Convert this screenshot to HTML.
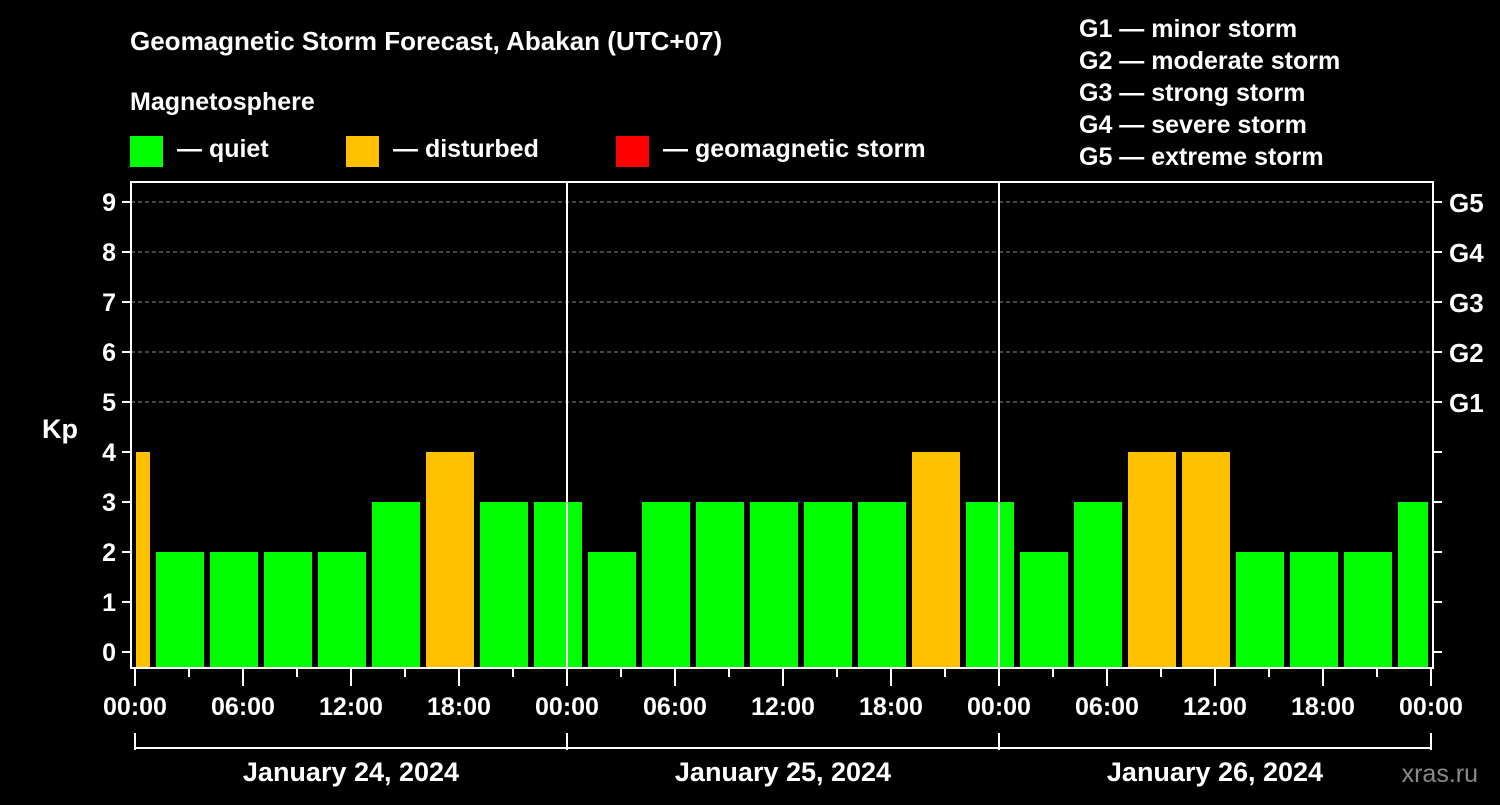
<!DOCTYPE html>
<html><head><meta charset="utf-8"><style>
body{margin:0;background:#000;width:1500px;height:800px;overflow:hidden}
svg text{font-family:"Liberation Sans",Arial,sans-serif;font-weight:bold;fill:#fff}
</style></head><body>
<svg id="c" width="1500" height="800">
<text x="130" y="50" font-size="26">Geomagnetic Storm Forecast, Abakan (UTC+07)</text>
<text x="130" y="110" font-size="25">Magnetosphere</text>
<rect x="130" y="136" width="33" height="31" fill="#00ff00"/>
<text x="177" y="157" font-size="25">— quiet</text>
<rect x="346" y="136" width="33" height="31" fill="#ffc000"/>
<text x="393" y="157" font-size="25">— disturbed</text>
<rect x="616" y="136" width="33" height="31" fill="#ff0000"/>
<text x="663" y="157" font-size="25">— geomagnetic storm</text>
<g font-size="25">
<text x="1079" y="37">G1 — minor storm</text>
<text x="1079" y="69">G2 — moderate storm</text>
<text x="1079" y="101">G3 — strong storm</text>
<text x="1079" y="133">G4 — severe storm</text>
<text x="1079" y="165">G5 — extreme storm</text>
</g>
<text x="42" y="438" font-size="27">Kp</text>
<text x="1478" y="782" font-size="25" fill="#888" style="fill:#8a8a8a;font-weight:normal" text-anchor="end">xras.ru</text>
<g id="grid"></g><g id="bars"></g><g id="axes"></g>
</svg>
<script>
const values=[4,2,2,2,2,3,4,3,3,2,3,3,3,3,3,4,3,2,3,4,4,2,2,2,3];
const startHours=[-2,1,4,7,10,13,16,19,22,25,28,31,34,37,40,43,46,49,52,55,58,61,64,67,70];
const yTicks=[0,1,2,3,4,5,6,7,8,9];
const gLabels=["G1","G2","G3","G4","G5"];
const xTickLabels=["00:00","06:00","12:00","18:00","00:00","06:00","12:00","18:00","00:00","06:00","12:00","18:00","00:00"];
const dayLabels=["January 24, 2024","January 25, 2024","January 26, 2024"];
const NS="http://www.w3.org/2000/svg";
const L=131,R=1433,T=182,B=668;
const x=h=>135+h*18;
const y=v=>652-v*50;
function mk(p,t,a){const e=document.createElementNS(NS,t);for(const k in a)e.setAttribute(k,a[k]);p.appendChild(e);return e;}
const grid=document.getElementById('grid'),bars=document.getElementById('bars'),axes=document.getElementById('axes');
for(let v=5;v<=9;v++){const l=mk(grid,'line',{x1:L,x2:R,y1:y(v),y2:y(v),stroke:'#888','stroke-dasharray':'4,3','stroke-width':1});

}
values.forEach((v,i)=>{let x0=Math.max(x(startHours[i])+3,136),x1=Math.min(x(startHours[i]+3)-3,1428);
const r=mk(bars,'rect',{x:x0,y:y(v),width:x1-x0,height:B-y(v),fill:v>=5?'#ff0000':(v>=4?'#ffc000':'#00ff00')});

});
mk(axes,'rect',{x:L,y:T,width:R-L,height:B-T,fill:'none',stroke:'#fff','stroke-width':2});
[24,48].forEach(h=>{const l=mk(axes,'line',{x1:x(h),x2:x(h),y1:T,y2:B,stroke:'#fff','stroke-width':2});

});
yTicks.forEach(v=>{mk(axes,'line',{x1:122,x2:L,y1:y(v),y2:y(v),stroke:'#fff','stroke-width':2});
mk(axes,'line',{x1:R,x2:1442,y1:y(v),y2:y(v),stroke:'#fff','stroke-width':2});
const t=mk(axes,'text',{x:116,y:y(v)+9,'font-size':25,'text-anchor':'end'});t.textContent=v;

});
gLabels.forEach((g,i)=>{const t=mk(axes,'text',{x:1449,y:y(i+5)+10,'font-size':26});t.textContent=g;

});
for(let h=0;h<=72;h+=3){mk(axes,'line',{x1:x(h),x2:x(h),y1:B,y2:h%6===0?686:677,stroke:'#fff','stroke-width':2});}
xTickLabels.forEach((s,i)=>{const t=mk(axes,'text',{x:x(i*6),y:715,'font-size':25,'text-anchor':'middle'});t.textContent=s;

});
mk(axes,'line',{x1:x(0),x2:x(72),y1:748,y2:748,stroke:'#fff','stroke-width':2});
[0,24,48,72].forEach(h=>mk(axes,'line',{x1:x(h),x2:x(h),y1:733,y2:750,stroke:'#fff','stroke-width':2}));
dayLabels.forEach((s,i)=>{const t=mk(axes,'text',{x:x(i*24+12),y:781,'font-size':27,'text-anchor':'middle'});t.textContent=s;

});
</script>
</body></html>
